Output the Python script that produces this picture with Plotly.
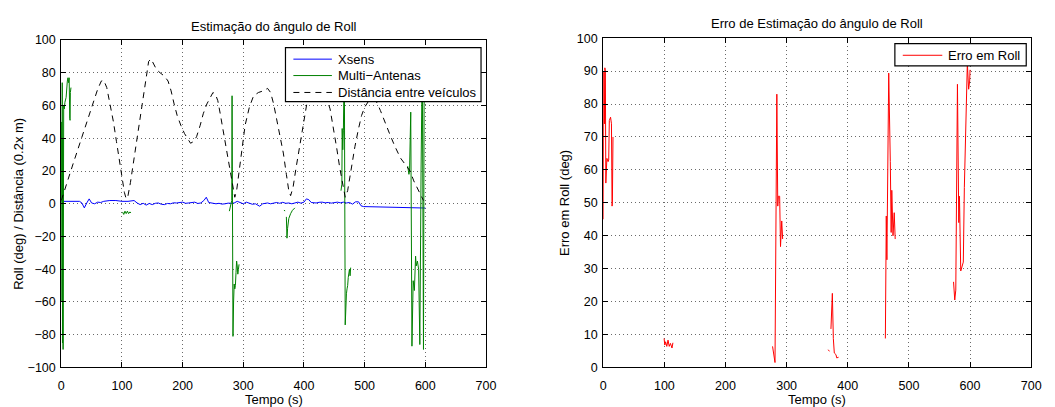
import plotly.graph_objects as go

# ---------------- data ----------------
# Distance between vehicles (scaled 0.2x m)
dist_t = [0, 5, 11, 20, 28, 36, 44, 52, 60, 66, 70, 75, 80, 86, 91, 96, 100, 104, 107, 110,
          114, 118, 124, 129, 135, 140, 144, 148, 152, 157, 163, 170, 176, 181, 186, 191, 197,
          203, 208, 213, 218, 223, 229, 234, 240, 245, 250, 254, 258, 262, 267, 272, 278, 283,
          286, 289, 294, 299, 303, 310, 317, 325, 333, 340, 345, 350, 355, 361, 366, 371, 375,
          378, 382, 387, 393, 398, 402, 406, 412, 420, 428, 436, 443, 448, 454, 459, 464, 468,
          472, 478, 484, 490, 495, 500, 507, 514, 520, 526, 531, 537, 542, 550, 559, 567, 575,
          581, 586, 592, 597]
dist_v = [2, 8, 14, 25, 34, 43, 53, 62, 70, 75, 75.5, 71, 62, 50, 38, 26, 15, 7, 3, 5,
          13, 23, 38, 52, 67, 80, 87, 88.5, 86, 82, 80, 78, 75, 69, 61, 54, 48,
          43, 40, 37, 38, 41, 48, 55, 61, 65, 68, 67, 63, 55, 44, 33, 20, 9,
          4, 8, 22, 37, 48, 59, 66, 68, 69, 70.5, 68, 61, 52, 42, 31, 18, 8,
          5, 10, 22, 36, 47, 56, 64, 70, 73, 72, 66, 58, 48, 34, 22, 11, 4,
          8, 22, 35, 46, 54, 59, 63, 64, 62, 57, 52, 47, 42, 35, 28, 24, 20,
          14, 10, 5, 2]

# Xsens roll (deg)
xsens_t = [0, 10, 20, 30, 34, 38, 42, 46, 50, 55, 60, 65, 70, 80, 90, 100, 110, 120, 125, 130,
           135, 140, 145, 150, 155, 160, 165, 170, 175, 180, 185, 190, 200, 205, 210, 215, 220,
           225, 230, 235, 239, 243, 250, 255, 260, 265, 270, 275, 280, 285, 290, 295, 300, 305,
           310, 315, 320, 327, 332, 340, 345, 350, 355, 360, 365, 370, 375, 380, 385, 390, 395,
           400, 404, 408, 412, 420, 425, 430, 435, 440, 445, 450, 455, 460, 465, 470, 475, 480,
           485, 490, 494, 498, 510, 520, 540, 560, 565, 580, 600]
xsens_v = [1.5, 1.5, 1.5, 1.5, 0.5, -2.5, 0.5, 3, 0.5, 0, 1, 0.8, 1.5, 2, 2, 1.5, 1.5, 2, 0.5, -0.5,
           0.3, -0.8, 0.2, -0.5, 0.3, 0.5, -0.3, -0.5, 0.2, 0, 0.6, 0.5, 1, 0.3, 0.5, 0.8, 1,
           0.2, 0.5, 2, 4, 0.8, 0.5, 0, 0.3, -0.2, 0, 0.4, 0.3, 0.5, 1.5, 0.8, 0, 1,
           0.5, -0.3, 0, -1.5, 0, 0.5, 0, 0.3, 0.8, 0.3, 0.9, 0.3, 0.5, 0, 0.6, 1, 0.4,
           1, 3, 2.5, 0.8, 0.5, 0.9, 1, 0.6, 0.8, 0.4, 0.7, 1, 0.6, 1, 0.5, 0.8, -0.2,
           1.2, 1.2, -1.2, -1.7, -1.8, -2, -2, -2.1, -2.5, -2.6, -2.6]

# Multi-antenna roll (deg), one list per valid stretch
multi_t1 = [0, 0.5, 1, 1.5, 2, 2.5, 3, 4, 5, 6, 8, 10, 11, 12, 13, 14, 14.5, 15, 16]
multi_v1 = [2, 50, -60, 74, -85, 40, -89, 60, 58, 62, 65, 75, 77, 74, 77, 52, 51, 68, 71]
multi_t2 = [101, 103, 105, 107, 109, 111, 113, 115]
multi_v2 = [-5, -6.5, -4.5, -6, -4.5, -6, -5, -5.5]
multi_t3 = [277, 279, 281, 281.5, 282, 283, 284, 285, 286, 287, 288, 289, 290, 291, 292, 293]
multi_v3 = [-4.5, -1, 2, 66, 10, -81, -60, -49, -52, -50, -42, -35, -38, -43, -40, -37]
multi_t4 = [367, 369]
multi_v4 = [-4, -4.3]
multi_t5 = [371, 372, 373, 375, 378, 381, 385]
multi_v5 = [-8, -21, -15, -9, -6, -4, -2.5]
multi_t6 = [461, 462.5, 463, 464, 465, 466.5, 468, 469, 470, 471, 472, 473, 474, 475, 476, 477]
multi_v6 = [8, 12, 46, 33, 45, 90, -74, -60, -55, -52, -50, -45, -42, -40, -44, -39]
multi_t7 = [571, 573, 574, 576, 578, 580, 582, 584, 585, 587, 589, 591, 593, 595, 597, 598, 600]
multi_v7 = [23, 18, 20, 56, -87, -47, -53, -32, -38, -35, -40, -86, 20, 90, -89, 60, 90]

# Roll estimation error (deg), one list per valid stretch
err_t1 = [0, 0.5, 1, 2, 2.7, 3.5, 4.3, 5, 6, 8, 9, 10, 12, 13.5, 14.5, 15, 16]
err_v1 = [45, 70, 90, 74, 91, 90, 56, 62, 63.5, 62.5, 63, 75, 76, 74, 49, 50, 70]
err_t2 = [99.6, 100.7, 102, 104, 106, 108, 110, 112.5, 114]
err_v2 = [8.8, 6.8, 7.8, 6.4, 8.3, 6.4, 7.3, 5.9, 7.5]
err_t3 = [277, 279.5, 281, 284, 285.5, 286.5, 288.6, 290, 292, 293.5]
err_v3 = [6.4, 2, 1.5, 83, 49, 52, 52, 36.7, 44.5, 39]
err_t4 = [368, 370]
err_v4 = [5.4, 4.9]
err_t5 = [372.5, 373.7, 374.8, 376.4, 378, 380.7, 382, 385]
err_v5 = [11.7, 22.5, 22.5, 8.8, 4.4, 3.9, 2.9, 3.1]
err_t6 = [461.5, 463, 464, 467, 469.6, 471, 472, 474, 476, 477.6]
err_v6 = [8.8, 46, 32.7, 89.4, 62.5, 41, 53.8, 40, 47, 39]
err_t7 = [573, 575, 576.7, 579.4, 581.6, 582.7, 584.8, 586.4, 589, 590.7, 593.4, 595.6,
          597.7, 599.4, 600]
err_v7 = [26, 20.5, 23.5, 86, 44, 52, 29.3, 30.3, 32, 54.7, 78, 92.4, 84.5, 87, 90.4]

# legend entries: (label, colour, dash)
left_legend = [("Xsens", "#0000ff", "solid"),
               ("Multi\u2212Antenas", "#008000", "solid"),
               ("Dist\u00e2ncia entre ve\u00edculos", "#000000", "6px,5px")]
right_legend = [("Erro em Roll", "#ff0000", "solid")]


def join(*pairs):
    """Concatenate stretches, separated by gaps."""
    xs, ys = [], []
    for t, v in pairs:
        if xs:
            xs.append(None)
            ys.append(None)
        xs.extend(t)
        ys.extend(v)
    return xs, ys


multi_x, multi_y = join((multi_t1, multi_v1), (multi_t2, multi_v2), (multi_t3, multi_v3),
                        (multi_t4, multi_v4), (multi_t5, multi_v5), (multi_t6, multi_v6),
                        (multi_t7, multi_v7))
err_x, err_y = join((err_t1, err_v1), (err_t2, err_v2), (err_t3, err_v3), (err_t4, err_v4),
                    (err_t5, err_v5), (err_t6, err_v6), (err_t7, err_v7))

# ---------------- figure ----------------
W, H = 1055, 407
FONT = "Liberation Sans, Arial, Helvetica, sans-serif"


def px_x(p):
    return p / W


def px_y(p):
    return 1 - p / H


fig = go.Figure()

fig.add_trace(go.Scatter(x=xsens_t, y=xsens_v, mode="lines", name=left_legend[0][0],
                         line=dict(color=left_legend[0][1], width=1), xaxis="x", yaxis="y"))
fig.add_trace(go.Scatter(x=multi_x, y=multi_y, mode="lines", name=left_legend[1][0],
                         line=dict(color=left_legend[1][1], width=1), connectgaps=False,
                         xaxis="x", yaxis="y"))
fig.add_trace(go.Scatter(x=dist_t, y=dist_v, mode="lines", name=left_legend[2][0],
                         line=dict(color=left_legend[2][1], width=1, dash=left_legend[2][2]),
                         xaxis="x", yaxis="y"))
fig.add_trace(go.Scatter(x=err_x, y=err_y, mode="lines", name=right_legend[0][0],
                         line=dict(color=right_legend[0][1], width=1), connectgaps=False,
                         xaxis="x2", yaxis="y2"))

axis_common = dict(
    ticks="inside", ticklen=5, tickwidth=1, tickcolor="black",
    showline=True, linecolor="black", linewidth=1, mirror="ticks",
    showgrid=True, gridcolor="#6a6a6a", griddash="1px,3px", gridwidth=1,
    zeroline=False, tickfont=dict(family=FONT, size=12.5, color="black"),
)

fig.update_layout(
    width=W, height=H,
    margin=dict(l=0, r=0, t=0, b=0),
    paper_bgcolor="white", plot_bgcolor="white",
    font=dict(family=FONT, size=13, color="black"),
    showlegend=False,
    xaxis=dict(domain=[px_x(59), px_x(489)], range=[0, 700], dtick=100, tick0=0,
               anchor="y", ticklabelstandoff=7, **axis_common),
    yaxis=dict(domain=[px_y(373.3), px_y(34.3)], range=[-100, 100], dtick=20, tick0=0,
               anchor="x", ticklabelstandoff=2, **axis_common),
    xaxis2=dict(domain=[px_x(607.7), px_x(1041)], range=[0, 700], dtick=100, tick0=0,
                anchor="y2", ticklabelstandoff=7, **axis_common),
    yaxis2=dict(domain=[px_y(373.3), px_y(32.3)], range=[0, 100], dtick=10, tick0=0,
                anchor="x2", ticklabelstandoff=2, **axis_common),
)


def draw_legend(entries, box, row_y, line_x, text_x):
    """Boxed legend: sample line + label per entry (positions in pixels)."""
    x0, y0, x1, y1 = box
    fig.add_shape(type="rect", xref="paper", yref="paper", layer="above",
                  x0=px_x(x0), x1=px_x(x1), y0=px_y(y1), y1=px_y(y0),
                  fillcolor="white", line=dict(color="black", width=1.2))
    for (label, colour, dash), yy in zip(entries, row_y):
        fig.add_shape(type="line", xref="paper", yref="paper", layer="above",
                      x0=px_x(line_x[0]), x1=px_x(line_x[1]), y0=px_y(yy), y1=px_y(yy),
                      line=dict(color=colour, width=1, dash=dash))
        fig.add_annotation(xref="paper", yref="paper", showarrow=False,
                           x=px_x(text_x), y=px_y(yy), xanchor="left", yanchor="middle",
                           text=label, font=dict(family=FONT, size=13, color="black"))


draw_legend(left_legend, (286, 42, 484, 98), (54, 71, 88.5), (294, 333), 337)
draw_legend(right_legend, (903, 38, 1036, 61), (50,), (911, 951), 955)

annots = [
    dict(text="Estima\u00e7\u00e3o do \u00e2ngulo de Roll", x=px_x(274), y=px_y(20)),
    dict(text="Erro de Estima\u00e7\u00e3o do \u00e2ngulo de Roll", x=px_x(824), y=px_y(17)),
    dict(text="Tempo (s)", x=px_x(274), y=px_y(406)),
    dict(text="Tempo (s)", x=px_x(824), y=px_y(406)),
    dict(text="Roll (deg) / Dist\u00e2ncia (0.2x m)", x=px_x(16), y=px_y(204), textangle=-90),
    dict(text="Erro em Roll (deg)", x=px_x(568), y=px_y(203), textangle=-90),
]
for a in annots:
    fig.add_annotation(xref="paper", yref="paper", showarrow=False,
                       xanchor="center", yanchor="middle",
                       font=dict(family=FONT, size=13, color="black"), **a)

fig.write_html("out.html")
